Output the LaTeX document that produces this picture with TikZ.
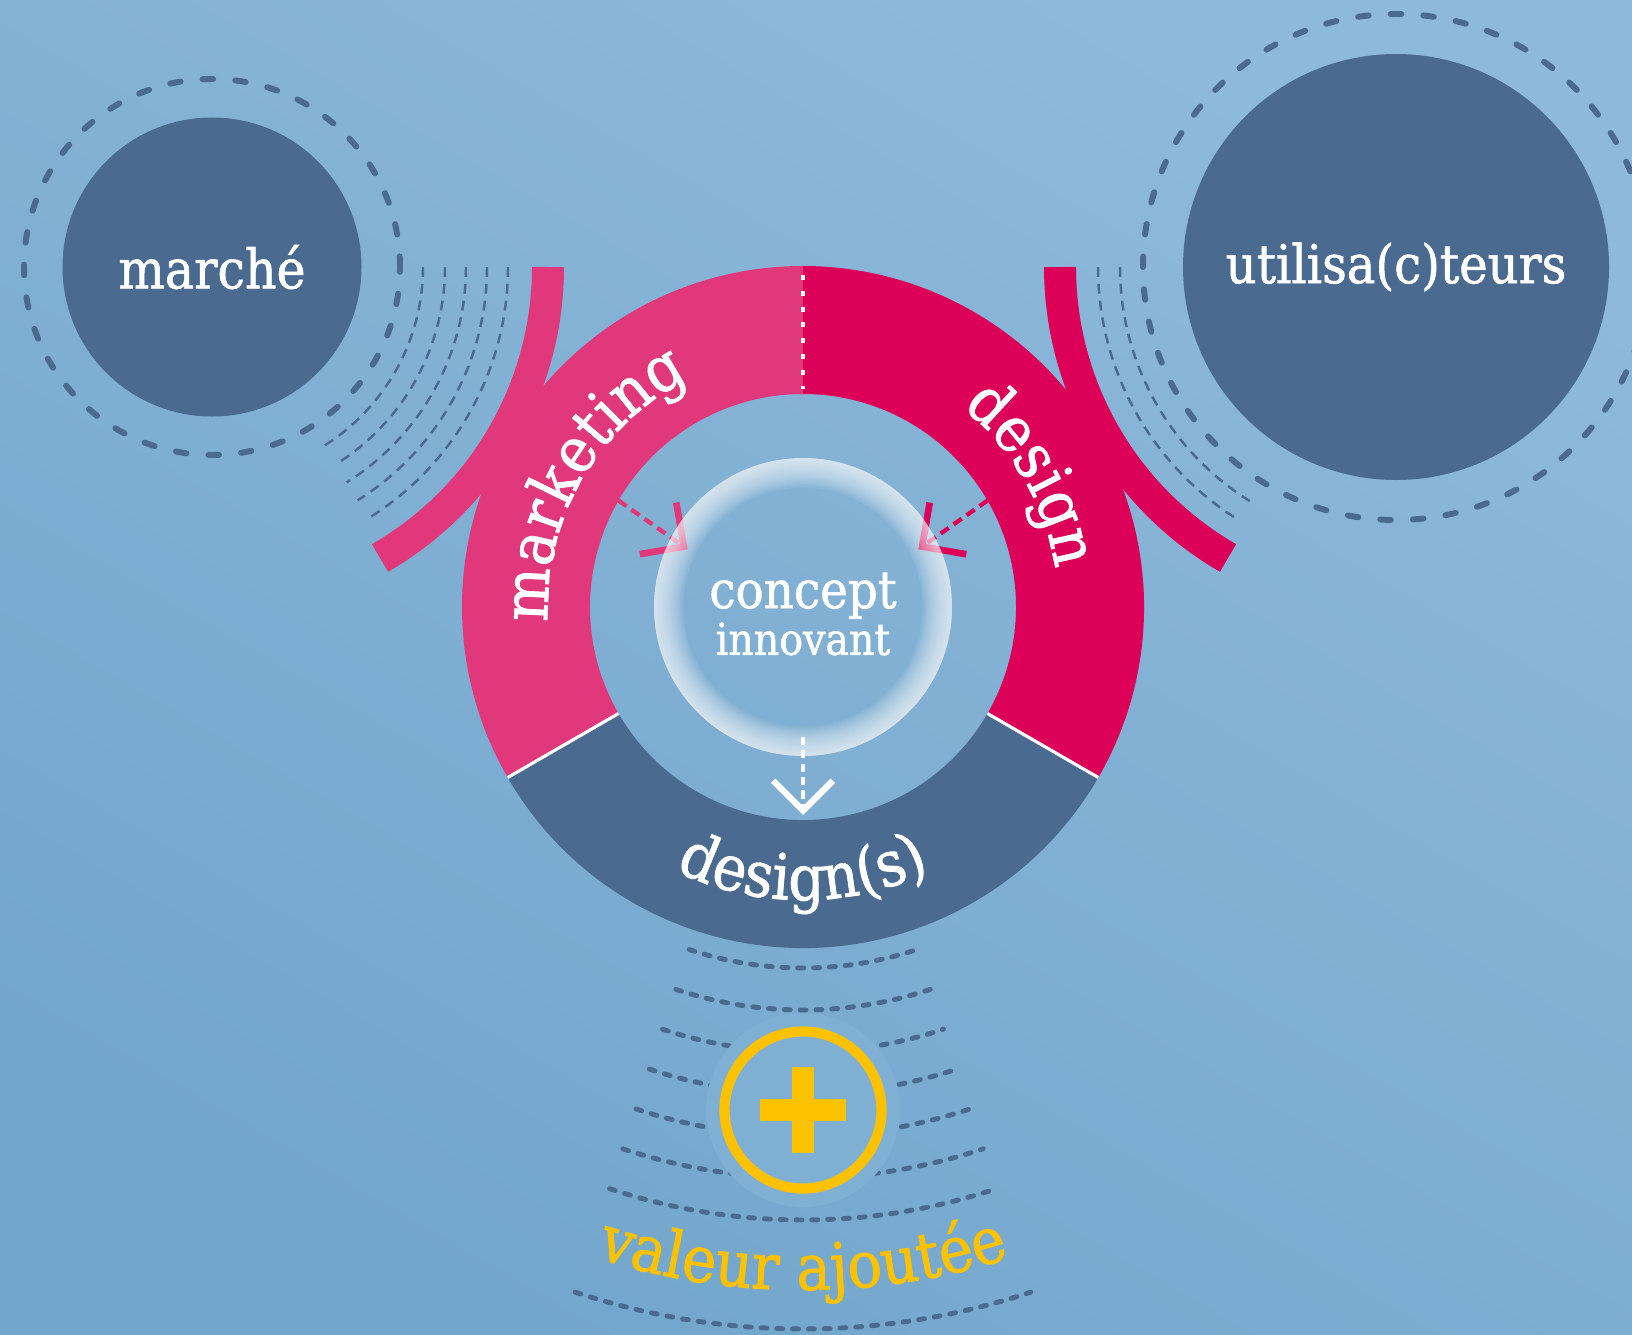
\documentclass[tikz,border=0pt]{standalone}
\usepackage{fontspec}
\newfontfamily\slab[FakeStretch=0.9,FakeBold=1.2]{DejaVu Serif}
\usetikzlibrary{positioning}
\usetikzlibrary{arrows.meta}
\usetikzlibrary{decorations.text}
\definecolor{bgtop}{HTML}{8EB9DA}
\definecolor{bgbot}{HTML}{73A6CC}
\definecolor{navy}{HTML}{4A6A90}
\definecolor{mkpink}{HTML}{E1387B}
\definecolor{dspink}{HTML}{DC0058}
\definecolor{gold}{HTML}{FCC200}
\definecolor{haze}{HTML}{7FB0D4}
\newcommand{\ringfont}{\slab\fontsize{18}{20}\selectfont}
\tikzset{
    bubble/.style = {circle, fill=navy, text=white, inner sep=0pt},
    halo/.style = {draw=navy, line width=1.7pt, dash pattern=on 3pt off 6.3pt, line cap=round},
    ripple/.style = {draw=navy, line width=0.7pt, dash pattern=on 2.8pt off 2pt},
    wave/.style = {draw=navy, line width=1.4pt, dash pattern=on 1.7pt off 2.8pt, line cap=round},
    bracket/.style = {line width=9.1pt},
    divider/.style = {draw=white, line width=0.9pt},
    pinkarrow/.style = {line width=1.2pt, dash pattern=on 2.8pt off 1.7pt, shorten >=-5pt,
        -{Straight Barb[length=9pt,width=18pt,line width=1.9pt]}},
    whitearrow/.style = {draw=white, line width=1.1pt, dash pattern=on 2.3pt off 1.5pt,
        -{Straight Barb[length=8.5pt,width=17pt,line width=1.8pt]}},
    plusring/.style = {circle, draw=gold, line width=2.9pt, minimum size=1.57cm, inner sep=0pt},
}
\begin{document}
\begin{tikzpicture}

\useasboundingbox (0,0) rectangle (16.32,-13.34);
\shade[top color=bgtop, bottom color=bgbot, shading angle=-30] (0,0) rectangle (16.32,-13.34);

\node[bubble, minimum size=2.99cm, font=\slab\fontsize{15.5}{18}\selectfont] (marche) at (2.12,-2.67) {marché};
\node[bubble, minimum size=4.26cm, font=\slab\fontsize{15.2}{18}\selectfont] (users) at (13.96,-2.67) {utilisa(c)teurs};
\draw[halo] (marche.center) circle (1.88);
\draw[halo] (users.center) circle (2.53);
\foreach \r in {2.11,2.33,2.54,2.75,2.96}
    \draw[ripple] ([shift={(0:\r)}]marche.center) arc[start angle=0, end angle=-58, radius=\r];
\foreach \r in {2.76,2.98}
    \draw[ripple] ([shift={(180:\r)}]users.center) arc[start angle=180, end angle=238, radius=\r];
\draw[bracket, mkpink] ([shift={(0:3.36)}]marche.center) arc[start angle=0, end angle=-60, radius=3.36];
\draw[bracket, dspink] ([shift={(180:3.36)}]users.center) arc[start angle=180, end angle=240, radius=3.36];

% ring
\coordinate (ring) at (8.03,-6.07);
\foreach \a/\b/\c in {90/210/mkpink, 210/330/navy, 330/450/dspink}
    \fill[\c] ([shift={(\a:3.41)}]ring) arc[start angle=\a, end angle=\b, radius=3.41]
        -- ([shift={(\b:2.13)}]ring) arc[start angle=\b, end angle=\a, radius=2.13] -- cycle;
\foreach \a in {210,330}
    \draw[divider] ([shift={(\a:2.13)}]ring) -- ([shift={(\a:3.41)}]ring);
\draw[white, line width=1.4pt, dash pattern=on 1.4pt off 3.1pt] ([shift={(90:3.32)}]ring) -- ([shift={(90:2.18)}]ring);

\node[circle, minimum size=2.98cm, inner sep=0pt, text=white, align=center, yshift=-2pt,
    font=\slab\fontsize{14.8}{12}\selectfont] (concept) at (ring) {concept\\{\fontsize{12.5}{12}\selectfont innovant}};
\coordinate (mkin) at ([shift={(150:2.13)}]ring);
\coordinate (dsin) at ([shift={(30:2.13)}]ring);
\coordinate (cbot) at (8.03,-7.37);
\coordinate (dtip) at (8.03,-8.15);
\draw[pinkarrow, draw=mkpink] (mkin) -- (concept.150);
\draw[pinkarrow, draw=dspink] (dsin) -- (concept.30);
\draw[whitearrow] (cbot) -- (dtip);
\foreach \k in {1,...,14}
    \draw[white, opacity=0.08, line width=\k*0.6pt] (ring) circle ({1.49cm-\k*0.3pt});

% curved labels
\path[decorate, decoration={text along path, text align=center, text color=white, text={|\ringfont|marketing}}]
    ([shift={(210:2.55)}]ring) arc[start angle=210, end angle=90, radius=2.55];
\path[decorate, decoration={text along path, text align=center, text color=white, text={|\ringfont|design}}]
    ([shift={(90:2.55)}]ring) arc[start angle=90, end angle=-30, radius=2.55];
\path[decorate, decoration={text along path, text align=center, text color=white, text={|\slab\fontsize{18}{20}\selectfont|design(s)}}]
    ([shift={(210:2.93)}]ring) arc[start angle=210, end angle=330, radius=2.93];

% valeur ajoutee
\foreach \r in {3.61,4.03,4.45,4.87,5.29,5.71,6.13,7.22}
    \draw[wave] ([shift={(251.6:\r)}]ring) arc[start angle=251.6, end angle=288.4, radius=\r];
\coordinate (valpos) at (8.03,-11.10);
\fill[haze] (valpos) circle (0.97);
\node[plusring] (plus) at (valpos) {};
\fill[gold] ([shift={(-0.43,-0.11)}]plus.center) rectangle ([shift={(0.43,0.11)}]plus.center);
\fill[gold] ([shift={(-0.11,-0.43)}]plus.center) rectangle ([shift={(0.11,0.43)}]plus.center);
\path[decorate, decoration={text along path, text align=center, text color=gold, text={|\slab\fontsize{18.3}{20}\selectfont|valeur ajoutée}}]
    ([shift={(240:6.83)}]ring) arc[start angle=240, end angle=300, radius=6.83];

\end{tikzpicture}
\end{document}
